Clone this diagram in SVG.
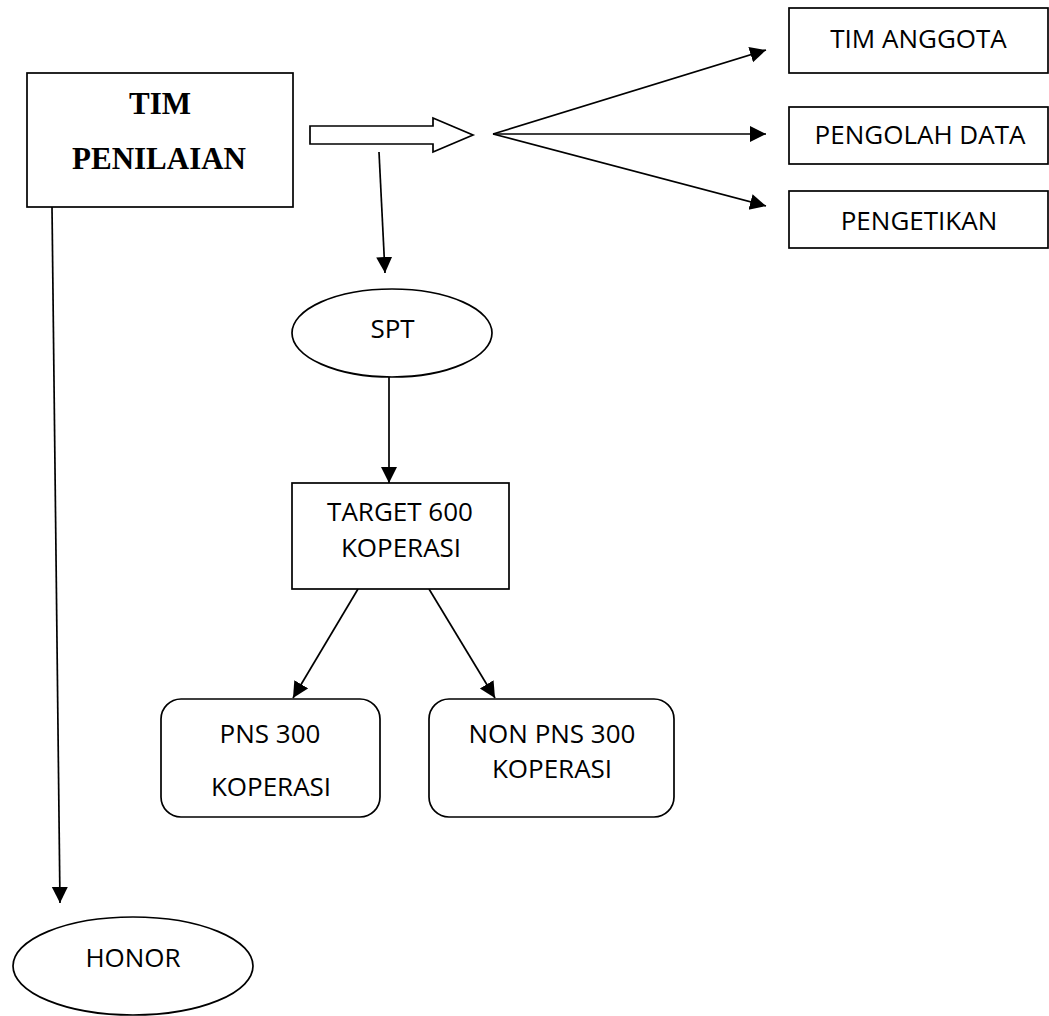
<svg xmlns="http://www.w3.org/2000/svg" width="1049" height="1016" viewBox="0 0 1049 1016">
<defs>
<marker id="ah" markerWidth="17" markerHeight="17" refX="16" refY="8" orient="auto" markerUnits="userSpaceOnUse">
<path d="M0,0 L16,8 L0,16 z" fill="#000"/>
</marker>
</defs>
<style>
.box{fill:#fff;stroke:#000;stroke-width:1.7}
.t{font-family:"Open Sans","Liberation Sans",sans-serif;font-size:26px;fill:#000;text-anchor:middle}
.tb{font-family:"Liberation Serif","Times New Roman",serif;font-size:31px;font-weight:bold;fill:#000;text-anchor:middle}
.c{stroke:#000;stroke-width:1.7;fill:none;marker-end:url(#ah)}
</style>
<rect width="1049" height="1016" fill="#fff"/>
<g id="connectors">
<polygon points="310,126 433,126 433,118 473,135 433,152 433,144 310,144" fill="#fff" stroke="#000" stroke-width="1.7"/>
<line class="c" x1="493" y1="134" x2="766" y2="50"/>
<line class="c" x1="493" y1="134" x2="766" y2="134"/>
<line class="c" x1="493" y1="134" x2="766" y2="206"/>
<line class="c" x1="379" y1="152" x2="385" y2="273"/>
<line class="c" x1="389" y1="377" x2="389" y2="483"/>
<line class="c" x1="358" y1="589" x2="293" y2="698"/>
<line class="c" x1="429" y1="589" x2="495" y2="698"/>
<line class="c" x1="52" y1="207" x2="60" y2="903"/>
</g>
<g id="tim-penilaian">
<rect class="box" x="27" y="73" width="266" height="134"/>
<text class="tb" x="160" y="114">TIM</text>
<text class="tb" x="159" y="169">PENILAIAN</text>
</g>
<g id="tim-anggota">
<rect class="box" x="789" y="8" width="259" height="65"/>
<text class="t" x="918.5" y="48">TIM ANGGOTA</text>
</g>
<g id="pengolah-data">
<rect class="box" x="789" y="107" width="259" height="57"/>
<text class="t" x="920" y="144">PENGOLAH DATA</text>
</g>
<g id="pengetikan">
<rect class="box" x="789" y="191" width="259" height="57"/>
<text class="t" x="919" y="230">PENGETIKAN</text>
</g>
<g id="spt">
<ellipse class="box" cx="392" cy="333" rx="100" ry="44"/>
<text class="t" x="392.5" y="338">SPT</text>
</g>
<g id="target">
<rect class="box" x="292" y="483" width="217" height="106"/>
<text class="t" x="400" y="521">TARGET 600</text>
<text class="t" x="401" y="557">KOPERASI</text>
</g>
<g id="pns">
<rect class="box" x="161" y="699" width="219" height="118" rx="20" ry="20"/>
<text class="t" x="270" y="743">PNS 300</text>
<text class="t" x="271" y="796">KOPERASI</text>
</g>
<g id="non-pns">
<rect class="box" x="429" y="699" width="245" height="118" rx="20" ry="20"/>
<text class="t" x="552" y="743">NON PNS 300</text>
<text class="t" x="552" y="778">KOPERASI</text>
</g>
<g id="honor">
<ellipse class="box" cx="133" cy="966" rx="120" ry="49"/>
<text class="t" x="133" y="967">HONOR</text>
</g>
</svg>
